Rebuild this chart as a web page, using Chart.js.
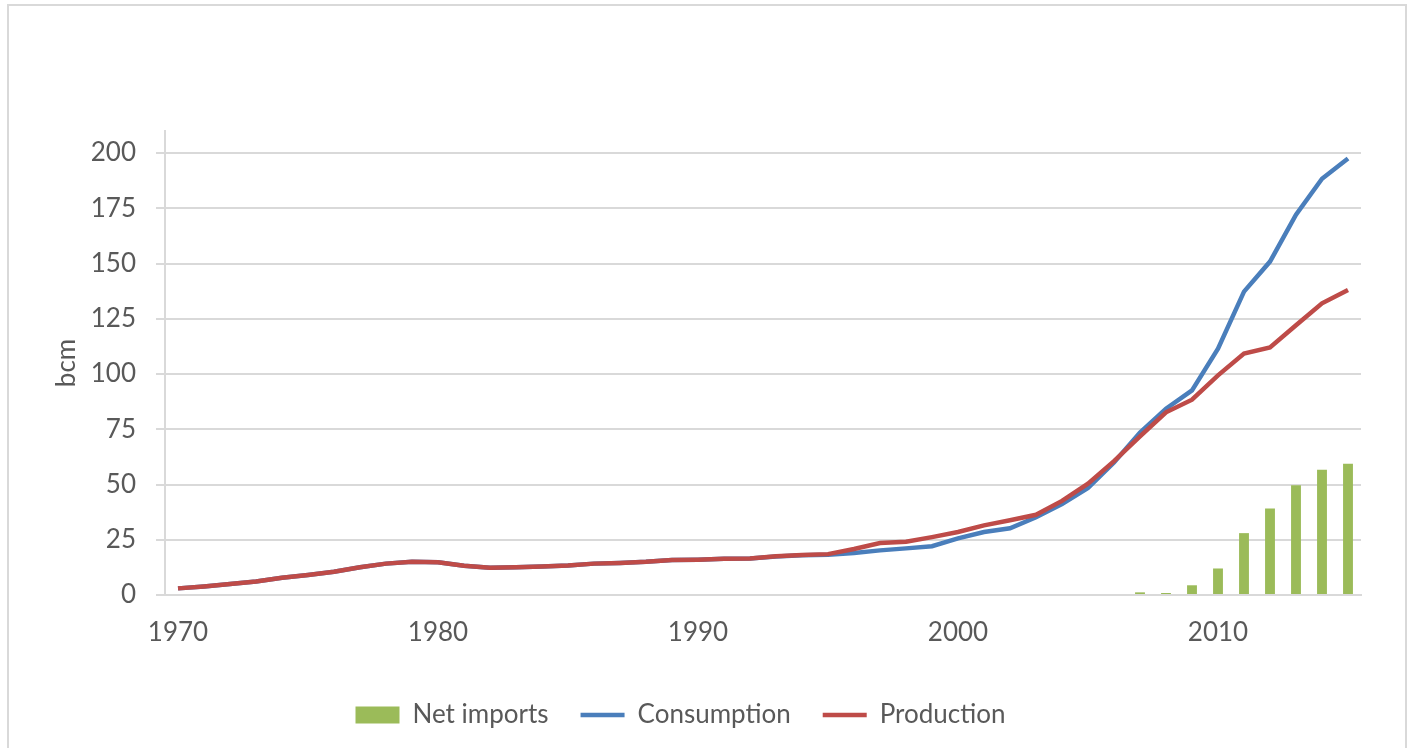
<!DOCTYPE html>
<html>
<head>
<meta charset="utf-8">
<script src="https://cdn.jsdelivr.net/npm/chart.js@4"></script>
<style>
  body { margin: 0; background: #fff; overflow: hidden; }
  #frame { position: absolute; left: 7px; top: 4px; width: 1400px; height: 780px; border: 2px solid #d9d9d9; box-sizing: border-box; }
  #wrap { position: absolute; left: 0; top: 0; width: 1408px; height: 748px; }
</style>
</head>
<body>
<div id="frame"></div>
<div id="wrap"><canvas id="gasChart"></canvas></div>
<script>
// years 1970..2015
const years = [];
for (let y = 1970; y <= 2015; y++) years.push(String(y));

const production = [
  3.0, 3.9, 5.0, 6.1, 7.8, 9.1, 10.5, 12.6, 14.2, 15.1,
  14.8, 13.2, 12.3, 12.6, 12.9, 13.4, 14.2, 14.5, 15.0, 15.8,
  16.0, 16.4, 16.5, 17.5, 18.1, 18.5, 20.8, 23.5, 24.1, 26.2,
  28.5, 31.5, 33.8, 36.3, 42.6, 50.4, 60.6, 71.8, 82.7, 88.4,
  99.4, 109.3, 112.0, 122.1, 132.0, 138.0
];
const consumption = [
  3.0, 3.9, 5.0, 6.1, 7.8, 9.1, 10.5, 12.6, 14.2, 15.1,
  14.8, 13.2, 12.3, 12.6, 12.9, 13.4, 14.2, 14.5, 15.0, 15.8,
  16.0, 16.4, 16.5, 17.4, 18.0, 18.2, 19.0, 20.2, 21.1, 22.1,
  25.6, 28.5, 30.2, 35.2, 41.2, 48.4, 60.0, 73.5, 84.3, 92.6,
  111.5, 137.3, 150.9, 172.1, 188.4, 197.6
];
const netImports = [
  null, null, null, null, null, null, null, null, null, null,
  null, null, null, null, null, null, null, null, null, null,
  null, null, null, null, null, null, null, null, null, null,
  null, null, null, null, null, null, null, 1.2, 0.9, 4.4,
  12.0, 28.0, 39.1, 49.7, 56.7, 59.4
];
const yTicks = [0, 25, 50, 75, 100, 125, 150, 175, 200];

const txt = '#595959';
const gridCol = '#d9d9d9';
const font = { family: 'Lato', size: 26 };

new Chart(document.getElementById('gasChart'), {
  data: {
    labels: years,
    datasets: [
      { type: 'bar', label: 'Net imports', data: netImports, backgroundColor: '#9bbb59',
        categoryPercentage: 1, barPercentage: 0.38, order: 3 },
      { type: 'line', label: 'Consumption', data: consumption, borderColor: '#4a7ebb',
        backgroundColor: '#4a7ebb', borderWidth: 4.5, pointRadius: 0, tension: 0, order: 2 },
      { type: 'line', label: 'Production', data: production, borderColor: '#be4b48',
        backgroundColor: '#be4b48', borderWidth: 4.5, pointRadius: 0, tension: 0, order: 1 }
    ]
  },
  options: {
    responsive: true,
    maintainAspectRatio: false,
    animation: false,
    layout: { padding: { top: 131, right: 47, left: 0, bottom: 10 } },
    plugins: {
      tooltip: { enabled: false },
      legend: {
        position: 'bottom',
        labels: {
          color: txt,
          font: font,
          usePointStyle: true,
          pointStyleWidth: 44,
          boxHeight: 17,
          padding: 32,
          sort: (a, b) => a.datasetIndex - b.datasetIndex,
          generateLabels: chart => chart.data.datasets.map((ds, i) => ({
            text: ds.label,
            datasetIndex: i,
            fillStyle: ds.backgroundColor,
            strokeStyle: ds.type === 'bar' ? ds.backgroundColor : ds.borderColor,
            lineWidth: ds.type === 'bar' ? 0 : 4.5,
            pointStyle: ds.type === 'bar' ? 'rect' : 'line',
            fontColor: txt
          }))
        }
      }
    },
    scales: {
      x: {
        offset: true,
        grid: { display: false },
        border: { display: true, color: gridCol, width: 2 },
        ticks: {
          color: txt, font: font, padding: 14, autoSkip: false, maxRotation: 0,
          callback: function (v) {
            const y = Number(this.getLabelForValue(v));
            return y % 10 === 0 ? String(y) : null;
          }
        },
        afterFit: s => { s.height = 75; }
      },
      y: {
        min: 0,
        max: 210,
        afterBuildTicks: s => { s.ticks = yTicks.map(v => ({ value: v })); },
        grid: { color: gridCol, lineWidth: 2, tickLength: 9, tickColor: gridCol },
        border: { display: true, color: gridCol, width: 2 },
        ticks: { color: txt, font: font, padding: 20 },
        title: { display: true, text: 'bcm', color: txt, font: font, padding: { top: 51, bottom: 0 } },
        afterFit: s => { s.width = 165; }
      }
    }
  }
});
</script>
</body>
</html>
